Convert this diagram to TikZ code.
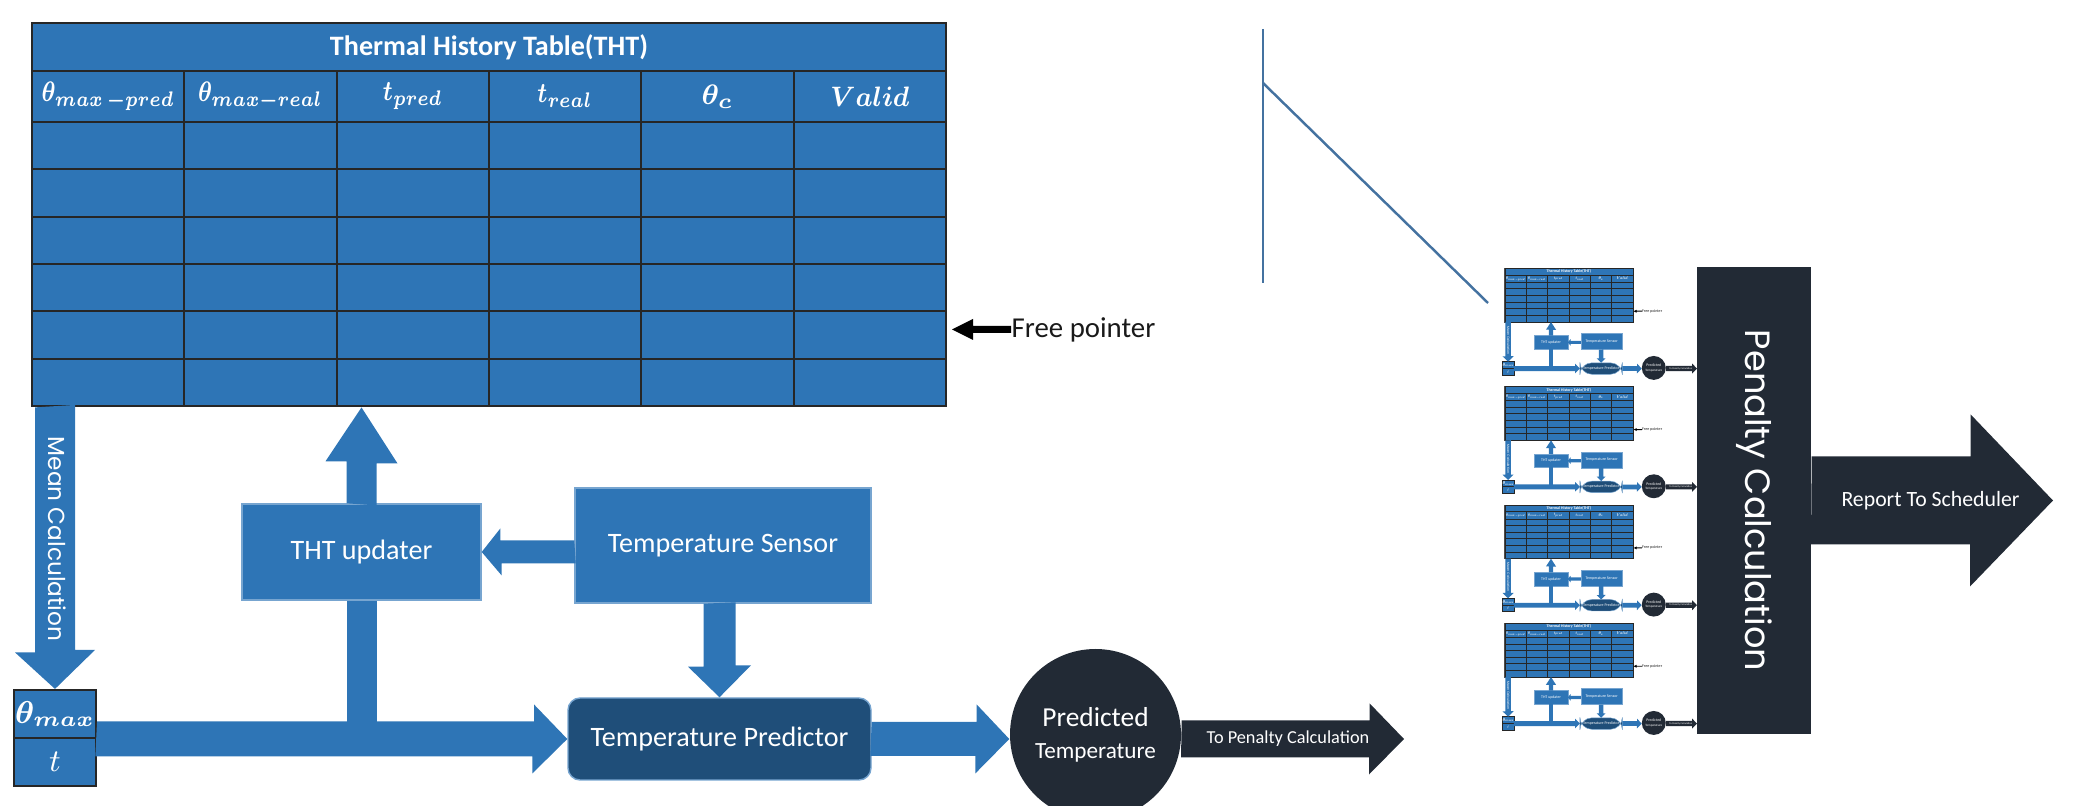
\documentclass[tikz,border=0pt]{standalone}
\usepackage{fontspec}
\setmainfont{Carlito}
\newfontfamily\geofont{Poppins}
\usepackage{bm}
\usepackage{graphicx}
\usepackage{tikz}
\usepackage{xcolor}
\definecolor{THTBlue}{RGB}{46,117,182}
\definecolor{PredBlue}{RGB}{31,78,121}
\definecolor{NavyDark}{RGB}{34,42,53}
\definecolor{LineBlue}{RGB}{68,114,160}

\newcommand{\lsc}{1}
\newcommand{\ttlfont}{\fontsize{8}{9.6}\selectfont\bfseries}
\newcommand{\hdfont}{\fontsize{8.3}{10}\selectfont}
\newcommand{\hdmath}[1]{\scalebox{0.8}[1]{$\bm{#1}$}}
\newcommand{\boxfont}{\fontsize{8}{9.6}\selectfont}
\newcommand{\meanfont}{\geofont\fontsize{6.6}{8}\selectfont}
\newcommand{\penfont}{\geofont\fontsize{10}{12}\selectfont}
\newcommand{\arrowfont}{\fontsize{5.2}{6.2}\selectfont}
\newcommand{\reportfont}{\fontsize{6.2}{7.4}\selectfont}

% one copy of the per-core predictor (used full size and as thumbnails)
\newcommand{\thtdiagram}{%
  \node[tframe] (tbl) at (4.89,-2.145) {};
  \node[tcell, minimum width=9.14cm, minimum height=0.48cm, text=white, font=\ttlfont] (ttl) at (4.89,-0.47) {Thermal History Table(THT)};
  \foreach \hd [count=\i] in {{\hdmath{\theta_{max\,-pred}}},{\hdmath{\theta_{max-real}}},{\hdmath{t_{pred}}},{\hdmath{t_{real}}},{$\bm{\theta_{c}}$},{\scalebox{0.9}[1]{$\bm{Valid}$}}}
    \node[thcell] (hd\i) at ({0.32+(\i-0.5)*1.5233},-0.965) {\hd};
  \foreach \r in {1,...,6}
    \foreach \i in {1,...,6}
      \node[tcell] (c\r\i) at ({0.32+(\i-0.5)*1.5233},{-1.22-(\r-0.5)*0.47333}) {};
  \node[fptext, anchor=west] (fp) at (10.11,-3.295) {Free pointer};
  \fill[black] (fp.west) ++(0,0.035) -- ++(-0.38,0) -- ++(0,0.07) -- ++(-0.21,-0.105) -- ++(0.21,-0.105) -- ++(0,0.07) -- ++(0.38,0) -- cycle;
  \node[tcell, minimum width=0.82cm, minimum height=0.48cm, text=white, font=\fontsize{9}{10}\selectfont] (thmax) at (0.55,-7.14) {$\bm{\theta_{max}}$};
  \node[tcell, minimum width=0.82cm, minimum height=0.48cm, text=white, font=\fontsize{9}{10}\selectfont] (tval) at (0.55,-7.62) {$t$};
  \node[blockbox, minimum width=2.39cm, minimum height=0.96cm] (upd) at (3.615,-5.52) {THT updater};
  \node[blockbox, minimum width=2.96cm, minimum height=1.15cm] (sens) at (7.23,-5.455) {Temperature Sensor};
  \node[predbox] (pred) at (7.195,-7.39) {Temperature Predictor};
  \node[tempcirc] (pc) at (10.955,-7.345) {\fontsize{7.8}{9.1}\selectfont Predicted\\\fontsize{6.6}{9.1}\selectfont Temperature};
  \coordinate (topen) at (14.04,-7.39);
  % block arrows
  \fill[blk] (thmax.north |- tbl.south) ++(-0.2,0) -- ++(0,-2.45) -- ++(-0.2,0) -- (thmax.north) -- ++(0.4,0.39) -- ++(-0.2,0) -- ++(0,2.45) -- cycle;
  \node[rotate=-90, text=white, font=\meanfont] (meantxt) at (0.57,-5.39) {Mean Calculation};
  \fill[blk] (tval.north east |- pred.west) ++(0,0.175) -- ++(4.37,0) -- ++(0,0.17) -- (pred.west) -- ++(-0.35,-0.345) -- ++(0,0.17) -- ++(-4.37,0) -- cycle;
  \fill[blk] (upd.south) ++(-0.15,0) rectangle ++(0.3,-1.32);
  \fill[blk] (upd.north) ++(-0.15,0) -- ++(0,0.42) -- ++(-0.21,0) -- (upd.north |- tbl.south) -- ++(0.36,-0.56) -- ++(-0.21,0) -- ++(0,-0.42) -- cycle;
  \fill[blk] (upd.east -| sens.west) ++(0,0.115) -- ++(-0.74,0) -- ++(0,0.12) -- (upd.east) -- ++(0.2,-0.235) -- ++(0,0.12) -- ++(0.74,0) -- cycle;
  \fill[blk] (pred.north |- sens.south) ++(-0.16,0) -- ++(0,-0.63) -- ++(-0.155,0) -- (pred.north) -- ++(0.315,0.32) -- ++(-0.155,0) -- ++(0,0.63) -- cycle;
  \fill[blk] (pred.east) ++(0,0.17) -- ++(1.05,0) -- ++(0,0.175) -- (pc.west |- pred.east) -- ++(-0.34,-0.345) -- ++(0,0.175) -- ++(-1.05,0) -- cycle;
  \fill[darkblk] (pc.east |- pred.east) ++(0,0.185) -- ++(1.88,0) -- ++(0,0.17) -- (topen) -- ++(-0.35,-0.355) -- ++(0,0.17) -- ++(-1.88,0) -- cycle;
  \node[text=white, font=\arrowfont] (topentxt) at (12.88,-7.39) {To Penalty Calculation};
}

\begin{document}
\begin{tikzpicture}[every node/.style={inner sep=0pt}]
  \tikzstyle{tframe} = [rectangle, fill=THTBlue, draw=black!70, line width=\lsc*0.8pt, minimum width=9.14cm, minimum height=3.83cm]
  \tikzstyle{tcell} = [rectangle, fill=THTBlue, draw=black!85, line width=\lsc*0.6pt, minimum width=1.5233cm, minimum height=0.4733cm]
  \tikzstyle{thcell} = [tcell, minimum height=0.51cm, text=white, font=\hdfont]
  \tikzstyle{blockbox} = [rectangle, fill=THTBlue, draw=THTBlue!65!white, line width=\lsc*0.4pt, text=white, font=\boxfont]
  \tikzstyle{predbox} = [blockbox, fill=PredBlue, rounded corners=0.12cm, minimum width=3.03cm, minimum height=0.82cm]
  \tikzstyle{tempcirc} = [circle, fill=NavyDark, minimum size=1.71cm, text=white, align=center, font=\fontsize{6.6}{9.1}\selectfont]
  \tikzstyle{fptext} = [text=black!90, font=\fontsize{8.2}{9.8}\selectfont]
  \tikzstyle{blk} = [fill=THTBlue]
  \tikzstyle{darkblk} = [fill=NavyDark]
  \tikzstyle{zoomline} = [draw=LineBlue, line width=0.7pt]

  \useasboundingbox (0,0) rectangle (20.86,-8.06);

  \thtdiagram

  % zoom marker
  \coordinate (vtop) at (12.63,-0.29);
  \coordinate (vbot) at (12.63,-2.83);
  \coordinate (vmid) at (12.63,-0.83);
  \coordinate (zend) at (14.88,-3.03);
  \draw[zoomline] (vtop) -- (vbot);
  \draw[zoomline] (vmid) -- (zend);

  % thumbnails of four cores
  \foreach \k in {0,...,3}{
    \begin{scope}[shift={(15.004,{-2.651-1.1834*\k})}, scale=0.14, transform shape, name prefix=s\k-]
      \renewcommand{\lsc}{0.3}
      \thtdiagram
    \end{scope}
  }

  \node[rectangle, fill=NavyDark, minimum width=1.14cm, minimum height=4.67cm] (pen) at (17.54,-5.005) {};
  \node[rotate=-90, text=white, font=\penfont] (pentxt) at (pen) {Penalty Calculation};
  \coordinate (rep) at (20.53,-5.005);
  \fill[darkblk] (pen.east) ++(0,0.44) -- ++(1.59,0) -- ++(0,0.42) -- (rep) -- ++(-0.83,-0.86) -- ++(0,0.42) -- ++(-1.59,0) -- cycle;
  \node[text=white, font=\reportfont] (reptxt) at (19.305,-5.01) {Report To Scheduler};
\end{tikzpicture}
\end{document}
